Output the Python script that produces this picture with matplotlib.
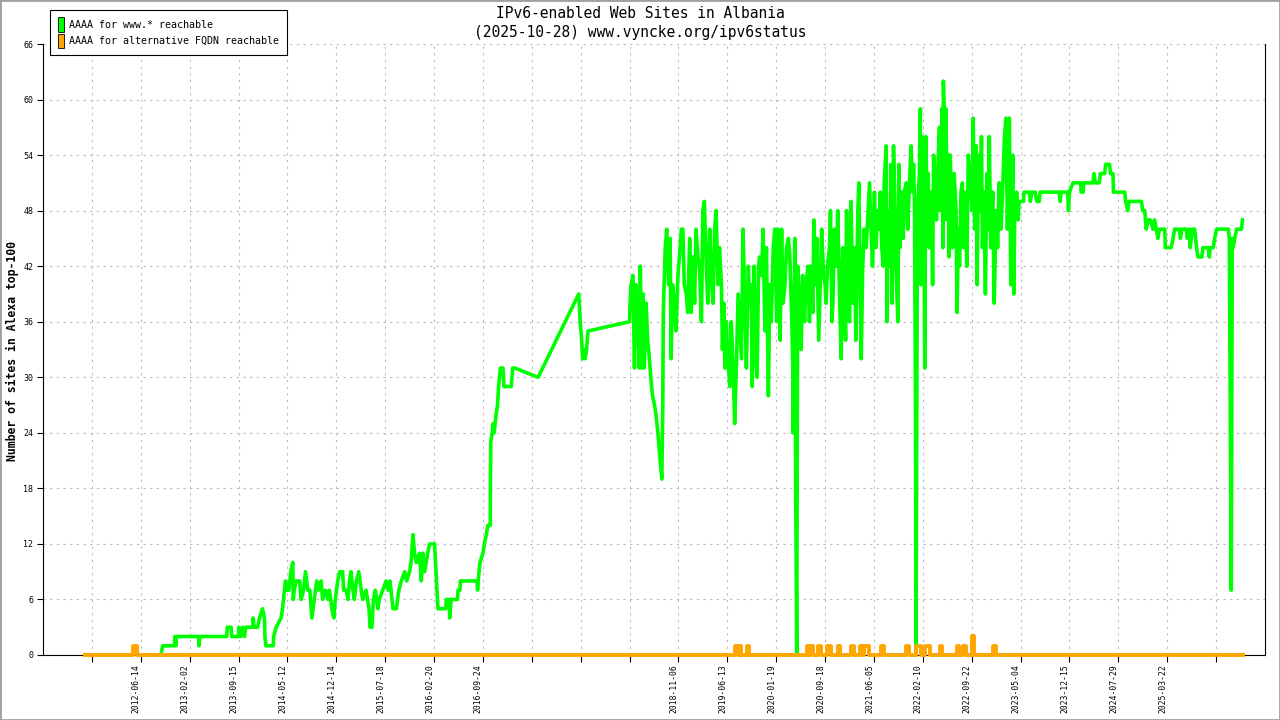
import numpy as np
import matplotlib
matplotlib.use('Agg')
from matplotlib import pyplot as plt
from matplotlib.patches import Patch, Rectangle

# Zeitachse in Tick-Einheiten (0..23), Werte = Anzahl Sites
tick_labels = ['', '2012-06-14', '2013-02-02', '2013-09-15', '2014-05-12', '2014-12-14',
               '2015-07-18', '2016-02-20', '2016-09-24', '', '', '', '2018-11-06',
               '2019-06-13', '2020-01-19', '2020-09-18', '2021-06-05', '2022-02-10',
               '2022-09-22', '2023-05-04', '2023-12-15', '2024-07-29', '2025-03-22', '']

www_t = [1.41, 1.45, 1.69, 1.70, 1.72, 1.73, 2.18, 2.19, 2.21, 2.76, 2.77, 2.85, 2.86, 3.00, 3.01,
         3.05, 3.08, 3.12, 3.15, 3.29, 3.30, 3.32, 3.39, 3.43, 3.49, 3.53, 3.54, 3.56, 3.71, 3.72,
         3.77, 3.87, 3.90, 3.94, 3.96, 3.99, 4.03, 4.07, 4.11, 4.12, 4.14, 4.18, 4.25, 4.28, 4.33,
         4.37, 4.42, 4.46, 4.50, 4.55, 4.60, 4.64, 4.69, 4.72, 4.78, 4.83, 4.86, 4.91, 4.95, 4.98,
         5.03, 5.07, 5.13, 5.15, 5.20, 5.24, 5.27, 5.30, 5.34, 5.37, 5.41, 5.46, 5.51, 5.54, 5.61,
         5.67, 5.69, 5.73, 5.76, 5.80, 5.85, 5.88, 5.95, 6.02, 6.06, 6.10, 6.16, 6.23, 6.28, 6.33,
         6.40, 6.44, 6.50, 6.53, 6.57, 6.60, 6.64, 6.70, 6.74, 6.77, 6.81, 6.84, 6.87, 6.91, 7.01,
         7.04, 7.08, 7.24, 7.25, 7.31, 7.32, 7.35, 7.48, 7.49, 7.53, 7.54, 7.88, 7.89, 7.92, 7.94,
         8.00, 8.03, 8.07, 8.10, 8.15, 8.16, 8.19, 8.21, 8.23, 8.27, 8.30, 8.32, 8.34, 8.36, 8.41,
         8.43, 8.58, 8.61, 8.65, 9.13, 9.96, 9.99, 10.02, 10.04, 10.07, 10.09, 10.12, 10.15, 11.00,
         # 2018-2019
         11.01, 11.03, 11.07, 11.10, 11.13, 11.16, 11.20, 11.22, 11.25, 11.28, 11.30, 11.34, 11.37,
         11.39, 11.42, 11.45, 11.47, 11.51, 11.54, 11.58, 11.61, 11.66, 11.68, 11.69, 11.73, 11.76,
         11.80, 11.83, 11.85, 11.88, 11.92, 11.95, 11.99, 12.02, 12.06, 12.09, 12.12, 12.16, 12.19,
         12.23, 12.26, 12.30, 12.33, 12.36, 12.40, 12.43, 12.47, 12.50, 12.53, 12.57, 12.60, 12.64,
         12.67, 12.71, 12.74, 12.77, 12.81, 12.84, 12.88, 12.90, 12.93, 12.95, 12.98, 13.01, 13.05,
         13.08, 13.12, 13.15, 13.19, 13.22, 13.25, 13.29, 13.32, 13.36, 13.39, 13.43, 13.46, 13.49,
         13.51, 13.55, 13.58, 13.61, 13.64, 13.66, 13.70, 13.73, 13.77, 13.80, 13.84, 13.87, 13.90,
         13.94, 13.97, 14.01, 14.04, 14.08, 14.11, 14.14, 14.18, 14.21, 14.25, 14.28, 14.32, 14.34,
         14.35, 14.38, 14.40, 14.42,
         # 2020-2022
         14.44, 14.48, 14.51, 14.54, 14.58, 14.61, 14.65, 14.68, 14.71, 14.75, 14.77, 14.80, 14.83,
         14.87, 14.90, 14.93, 14.97, 15.00, 15.02, 15.05, 15.09, 15.11, 15.14, 15.16, 15.19, 15.23,
         15.26, 15.29, 15.33, 15.36, 15.40, 15.42, 15.44, 15.46, 15.50, 15.53, 15.57, 15.60, 15.63,
         15.67, 15.69, 15.72, 15.74, 15.77, 15.80, 15.84, 15.87, 15.91, 15.94, 15.97, 16.01, 16.04,
         16.08, 16.11, 16.13, 16.16, 16.19, 16.21, 16.25, 16.27, 16.29, 16.33, 16.35, 16.37, 16.40,
         16.43, 16.45, 16.49, 16.51, 16.53, 16.57, 16.60, 16.62, 16.66, 16.69, 16.72, 16.76, 16.79,
         16.81, 16.83, 16.85, 16.86, 16.89, 16.93, 16.95, 16.96, 16.98, 17.00, 17.02, 17.04, 17.06,
         17.09, 17.11, 17.13, 17.17, 17.20, 17.22, 17.25, 17.28, 17.31, 17.34, 17.36, 17.39, 17.41,
         17.42, 17.44, 17.46, 17.47, 17.49, 17.52, 17.54, 17.56, 17.59, 17.61, 17.64, 17.68, 17.70,
         17.73, 17.75, 17.78, 17.81, 17.83, 17.87, 17.90, 17.93, 17.96, 18.01, 18.03, 18.06, 18.09,
         18.11, 18.14, 18.17, 18.20, 18.22, 18.25, 18.28, 18.31, 18.33, 18.36, 18.39, 18.43, 18.46,
         18.50, 18.53, 18.56, 18.60, 18.63, 18.67, 18.70, 18.73, 18.77, 18.80, 18.84, 18.86, 18.88,
         18.92, 18.95,
         # 2023-2025
         18.97, 19.06, 19.07, 19.18, 19.20, 19.23, 19.30, 19.33, 19.38, 19.40, 19.79, 19.81, 19.83,
         19.96, 19.98, 20.00, 20.07, 20.23, 20.24, 20.28, 20.29, 20.48, 20.50, 20.53, 20.61, 20.63,
         20.72, 20.74, 20.82, 20.84, 20.89, 20.90, 21.13, 21.15, 21.19, 21.22, 21.47, 21.50, 21.54,
         21.57, 21.61, 21.65, 21.71, 21.74, 21.81, 21.84, 21.95, 21.96, 22.08, 22.12, 22.15, 22.25,
         22.27, 22.30, 22.39, 22.41, 22.45, 22.47, 22.51, 22.56, 22.60, 22.63, 22.71, 22.73, 22.84,
         22.86, 22.88, 22.94, 22.97, 23.01, 23.25, 23.27, 23.29, 23.31, 23.33, 23.35, 23.38, 23.42,
         23.52, 23.54]

www_v = [0, 1, 1, 2, 1, 2, 2, 1, 2, 2, 3, 3, 2, 2, 3,
         2, 3, 2, 3, 3, 4, 3, 3, 4, 5, 4, 2, 1, 1, 2,
         3, 4, 5, 7, 8, 7, 7, 9, 10, 6, 7, 8, 8, 6, 7,
         9, 7, 7, 4, 6, 8, 7, 8, 6, 7, 6, 7, 5, 4, 6,
         8, 9, 9, 7, 7, 6, 8, 9, 7, 6, 8, 9, 7, 6, 7,
         5, 3, 3, 6, 7, 5, 6, 7, 8, 7, 8, 5, 5, 7, 8,
         9, 8, 9, 10, 13, 11, 10, 11, 8, 11, 9, 10, 11, 12, 12,
         9, 5, 5, 6, 6, 4, 6, 6, 7, 7, 8, 8, 7, 9, 10,
         11, 12, 13, 14, 14, 23, 24, 25, 24, 26, 27, 29, 30, 31, 31,
         29, 29, 31, 31, 30, 39, 36, 34, 32, 33, 32, 33, 35, 36,
         38, 40, 41, 31, 40, 37, 31, 42, 31, 39, 31, 38, 34,
         33, 31, 29, 28, 27, 26, 24, 22, 19, 27, 37, 44, 46,
         40, 45, 32, 40, 38, 35, 41, 43, 46, 46, 40, 39, 37,
         45, 37, 43, 38, 46, 43, 42, 36, 48, 49, 42, 38, 46,
         41, 38, 46, 48, 40, 44, 40, 33, 38, 31, 36, 32, 29,
         36, 31, 25, 32, 39, 36, 32, 46, 38, 31, 42, 38, 40,
         29, 42, 32, 30, 42, 43, 41, 46, 35, 44, 28, 40, 36,
         44, 46, 36, 46, 34, 46, 38, 40, 44, 45, 43, 36, 31,
         24, 45, 17, 0,
         42, 38, 33, 41, 36, 40, 42, 36, 42, 37, 47, 40, 45,
         34, 40, 46, 41, 40, 38, 42, 44, 48, 36, 38, 46, 42,
         48, 40, 32, 44, 38, 34, 48, 40, 36, 49, 38, 44, 34,
         48, 51, 40, 32, 42, 46, 44, 47, 51, 46, 42, 50, 44,
         48, 46, 50, 44, 42, 51, 55, 36, 48, 42, 53, 38, 55,
         48, 42, 36, 53, 44, 50, 45, 50, 51, 46, 50, 55, 50,
         53, 49, 26, 0, 48, 52, 59, 40, 56, 42, 53, 31, 56,
         48, 52, 44, 50, 40, 54, 50, 47, 53, 57, 48, 59, 44,
         62, 58, 47, 59, 52, 54, 43, 54, 48, 44, 52, 48, 37,
         46, 42, 50, 51, 44, 50, 42, 54, 52, 48, 58, 46, 55,
         40, 54, 48, 56, 44, 50, 39, 52, 46, 56, 44, 50, 38,
         48, 44, 51, 46, 50, 56, 58, 46, 58, 40, 54, 39, 48,
         50, 47,
         49, 49, 50, 50, 49, 50, 50, 49, 49, 50, 50, 49, 50,
         50, 48, 50, 51, 51, 50, 50, 51, 51, 52, 51, 51, 52,
         52, 53, 53, 52, 52, 50, 50, 49, 48, 49, 49, 48, 48,
         46, 47, 47, 46, 47, 45, 46, 46, 44, 44, 45, 46, 46,
         45, 46, 46, 45, 46, 44, 46, 46, 44, 43, 43, 44, 44,
         43, 44, 44, 45, 46, 46, 45, 26, 7, 45, 44, 45, 46,
         46, 47]

# alternative FQDN: Grundlinie 0, einzelne Ausschläge (Start, Ende, Wert)
alt_start, alt_end = -0.15, 23.55
alt_blips = [(0.84, 0.92, 1), (13.16, 13.22, 1), (13.23, 13.28, 1), (13.40, 13.45, 1),
             (14.62, 14.68, 1), (14.70, 14.75, 1), (14.86, 14.91, 1), (15.04, 15.12, 1),
             (15.26, 15.30, 1), (15.54, 15.59, 1), (15.72, 15.77, 1), (15.80, 15.89, 1),
             (16.15, 16.20, 1), (16.65, 16.72, 1), (16.87, 16.97, 1), (17.05, 17.15, 1),
             (17.35, 17.40, 1), (17.70, 17.74, 1), (17.83, 17.89, 1), (18.01, 18.05, 2),
             (18.44, 18.50, 1)]

green = '#00ff00'
orange = '#ffa500'
mono = 'DejaVu Sans Mono'

alt_t = [alt_start]
alt_v = [0]
for s, e, h in alt_blips:
    alt_t += [s, s, e, e]
    alt_v += [0, h, h, 0]
alt_t.append(alt_end)
alt_v.append(0)

fig = plt.figure(figsize=(12.8, 7.2), dpi=100)
ax = fig.add_axes([43 / 1280, 65 / 720, (1265 - 43) / 1280, (655 - 44) / 720])

ax.plot(www_t, www_v, color=green, lw=2.6, zorder=3, clip_on=False)
ax.plot(alt_t, alt_v, color=orange, lw=2.8, zorder=4, clip_on=False)

ax.set_xlim(-1, 24)
ax.set_ylim(0, 66)
ax.set_xticks(range(len(tick_labels)))
ax.set_xticklabels(tick_labels, rotation=90, ha='right', va='top', fontsize=5.8, family=mono)
ax.set_yticks(range(0, 67, 6))
ax.set_yticklabels([str(v) for v in range(0, 67, 6)], fontsize=6, family=mono)
ax.tick_params(axis='x', direction='out', length=5, width=0.8, pad=2)
ax.tick_params(axis='y', direction='out', length=4, width=0.8, pad=3)
ax.grid(True, color='#bbbbbb', linestyle=(0, (2, 4)), linewidth=0.8, zorder=0)
ax.set_axisbelow(True)
ax.spines['top'].set_visible(False)
for side in ['left', 'right', 'bottom']:
    ax.spines[side].set_linewidth(0.8)

fig.text(0.5, 1 - 13 / 720, 'IPv6-enabled Web Sites in Albania', ha='center', va='center',
         fontsize=10.5, family=mono)
fig.text(0.5, 1 - 32 / 720, '(2025-10-28) www.vyncke.org/ipv6status', ha='center', va='center',
         fontsize=10.5, family=mono)
fig.text(12 / 1280, 1 - 351 / 720, 'Number of sites in Alexa top-100', rotation=90, ha='center',
         va='center', fontsize=8.3, fontweight='bold', family=mono)

handles = [Patch(facecolor=green, edgecolor='black', linewidth=0.6),
           Patch(facecolor=orange, edgecolor='black', linewidth=0.6)]
leg = fig.legend(handles, ['AAAA for www.* reachable', 'AAAA for alternative FQDN reachable'],
                 loc='upper left', bbox_to_anchor=(50 / 1280, 1 - 10 / 720),
                 prop={'family': mono, 'size': 7.2}, fancybox=False, framealpha=1,
                 edgecolor='black', handlelength=0.6, handleheight=1.8, handletextpad=0.55,
                 borderpad=0.75, labelspacing=0.2, borderaxespad=0)
leg.get_frame().set_linewidth(0.8)

fig.add_artist(Rectangle((0, 0), 1, 1, transform=fig.transFigure, fill=False,
                         edgecolor='#a0a0a0', linewidth=2))

plt.savefig('out.png', dpi=100)
